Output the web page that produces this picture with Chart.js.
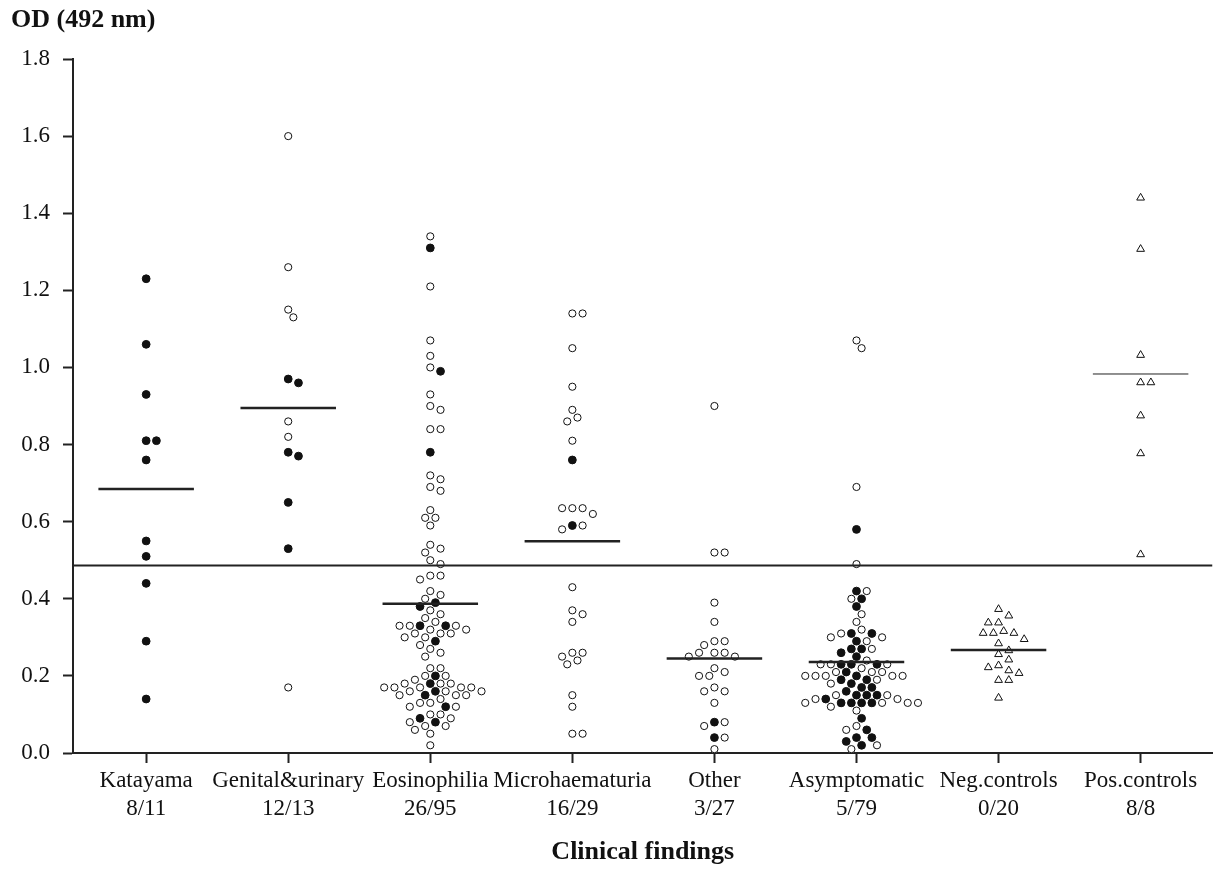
<!DOCTYPE html>
<html lang="en">
<head>
    <meta charset="UTF-8">
    <title>OD (492 nm) by clinical findings</title>
    <script src="https://cdn.jsdelivr.net/npm/chart.js@4.4.0/dist/chart.umd.min.js"></script>
    <style>
        body { margin: 0; background: #fff; }
        #chartBox { width: 1218px; height: 870px; }
    </style>
</head>
<body>
<div id="chartBox"><canvas id="odChart"></canvas></div>
<script>
    // categories and their positive/total ratios
    const categories = ['Katayama', 'Genital&urinary', 'Eosinophilia', 'Microhaematuria', 'Other', 'Asymptomatic', 'Neg.controls', 'Pos.controls'];
    const ratios = ['8/11', '12/13', '26/95', '16/29', '3/27', '5/79', '0/20', '8/8'];
    const yTicks = [0.0, 0.2, 0.4, 0.6, 0.8, 1.0, 1.2, 1.4, 1.6, 1.8];

    // OD values (filled / open circles, triangles for controls)
    const katayamaFilled = [1.23, 1.06, 0.93, 0.81, 0.81, 0.76, 0.55, 0.51, 0.44, 0.29, 0.14];
    const katayamaOpen = [];
    const genitalFilled = [0.97, 0.96, 0.78, 0.77, 0.65, 0.53];
    const genitalOpen = [1.60, 1.26, 1.15, 1.13, 0.86, 0.82, 0.17];
    const eosFilled = [1.31, 0.99, 0.78, 0.39, 0.38, 0.33, 0.33, 0.29, 0.20, 0.18, 0.16, 0.15, 0.12, 0.09, 0.08];
    const eosOpen = [1.34, 1.21, 1.07, 1.03, 1.00, 0.93, 0.90, 0.89, 0.84, 0.84,
        0.72, 0.71, 0.69, 0.68, 0.63, 0.61, 0.61, 0.59, 0.54, 0.53,
        0.52, 0.50, 0.49, 0.46, 0.46, 0.45, 0.42, 0.41, 0.40, 0.37,
        0.36, 0.35, 0.34, 0.33, 0.32, 0.33, 0.33, 0.32, 0.31, 0.31,
        0.31, 0.30, 0.30, 0.28, 0.27, 0.26, 0.25, 0.22, 0.22, 0.20,
        0.20, 0.19, 0.18, 0.18, 0.18, 0.17, 0.17, 0.16, 0.16, 0.17,
        0.17, 0.17, 0.16, 0.15, 0.15, 0.15, 0.14, 0.13, 0.13, 0.12,
        0.12, 0.10, 0.10, 0.09, 0.08, 0.07, 0.07, 0.06, 0.05, 0.02];
    const microFilled = [0.76, 0.59];
    const microOpen = [1.14, 1.14, 1.05, 0.95, 0.89, 0.87, 0.86, 0.81, 0.635, 0.635, 0.635, 0.62, 0.59, 0.58,
        0.43, 0.37, 0.36, 0.34, 0.26, 0.26, 0.25, 0.24, 0.23, 0.15, 0.12, 0.05, 0.05];
    const otherFilled = [0.08, 0.04];
    const otherOpen = [0.90, 0.52, 0.52, 0.39, 0.34, 0.29, 0.29, 0.28, 0.26, 0.26, 0.26, 0.25, 0.25,
        0.22, 0.21, 0.20, 0.20, 0.17, 0.16, 0.16, 0.13, 0.08, 0.07, 0.04, 0.01];
    const asympFilled = [0.58, 0.42, 0.40, 0.38, 0.31, 0.31, 0.29, 0.27, 0.27, 0.26,
        0.25, 0.23, 0.23, 0.23, 0.21, 0.20, 0.19, 0.19, 0.18, 0.17,
        0.17, 0.16, 0.15, 0.15, 0.15, 0.14, 0.13, 0.13, 0.13, 0.13,
        0.09, 0.06, 0.04, 0.04, 0.03, 0.02];
    const asympOpen = [1.07, 1.05, 0.69, 0.49, 0.42, 0.40, 0.36, 0.34, 0.32, 0.31,
        0.30, 0.30, 0.29, 0.27, 0.24, 0.23, 0.23, 0.23, 0.22, 0.21,
        0.21, 0.21, 0.20, 0.20, 0.20, 0.20, 0.20, 0.19, 0.18, 0.15,
        0.15, 0.14, 0.14, 0.13, 0.13, 0.13, 0.13, 0.12, 0.11, 0.07,
        0.06, 0.02, 0.01];
    const negControls = [0.373, 0.356, 0.338, 0.338, 0.316, 0.311, 0.311, 0.311, 0.295, 0.284,
        0.266, 0.256, 0.242, 0.227, 0.222, 0.214, 0.207, 0.189, 0.189, 0.143];
    const posControls = [1.44, 1.307, 1.032, 0.961, 0.961, 0.875, 0.777, 0.515];

    // group means (short bars) and the cut-off line
    const groupMeans = [0.685, 0.895, 0.387, 0.549, 0.245, 0.236, 0.267, 0.983];
    const cutoff = 0.486;

    const groupFilled = [katayamaFilled, genitalFilled, eosFilled, microFilled, otherFilled, asympFilled, [], []];
    const groupOpen = [katayamaOpen, genitalOpen, eosOpen, microOpen, otherOpen, asympOpen, [], []];
    const groupTriangles = [[], [], [], [], [], [], negControls, posControls];

    // rough pixel scale, used only to spread overlapping points sideways
    const CAT_PX = 142.8, OD_PX = 385.4, STEP_PX = 10.3, MIN_DIST_PX = 9;
    const X_MIN = 0.485, X_MAX = 8.506;
    const MEAN_HALF = 48 / CAT_PX;

    const filledPts = [], openPts = [], triPts = [];
    const tries = [0];
    for (let s = 0.5; s <= 8; s += 0.5) tries.push(s, -s);

    categories.forEach((cat, i) => {
        const pts = [
            ...groupFilled[i].map(v => ({ v, kind: 'f' })),
            ...groupOpen[i].map(v => ({ v, kind: 'o' })),
            ...groupTriangles[i].map(v => ({ v, kind: 't' }))
        ].sort((a, b) => b.v - a.v);
        const placed = [];
        pts.forEach(p => {
            const py = p.v * OD_PX;
            const k = tries.find(k => !placed.some(q => {
                const dx = (q.k - k) * STEP_PX, dy = q.py - py;
                return dx * dx + dy * dy < MIN_DIST_PX * MIN_DIST_PX;
            }));
            placed.push({ k, py });
            const pt = { x: i + 1 + k * STEP_PX / CAT_PX, y: p.v };
            if (p.kind === 'f') filledPts.push(pt);
            else if (p.kind === 'o') openPts.push(pt);
            else triPts.push(pt);
        });
    });

    const meanSets = groupMeans.map((m, i) => ({
        data: [{ x: i + 1 - MEAN_HALF, y: m }, { x: i + 1 + MEAN_HALF, y: m }],
        showLine: true,
        borderColor: '#222',
        borderWidth: i === 7 ? 1 : 2.5,
        pointRadius: 0
    }));

    // bold "OD (492 nm)" header above the y axis
    const odLabel = {
        id: 'odLabel',
        afterDraw(chart) {
            const c = chart.ctx;
            c.save();
            c.font = 'bold 26px "Liberation Serif"';
            c.fillStyle = '#111';
            c.textBaseline = 'alphabetic';
            c.fillText('OD (492 nm)', 11, 27);
            c.restore();
        }
    };

    const serif = '"Liberation Serif", "Times New Roman", serif';

    new Chart(document.getElementById('odChart'), {
        type: 'scatter',
        data: {
            datasets: [
                {
                    data: [{ x: X_MIN, y: cutoff }, { x: X_MAX, y: cutoff }],
                    showLine: true,
                    borderColor: '#222',
                    borderWidth: 2,
                    pointRadius: 0
                },
                ...meanSets,
                {
                    data: openPts,
                    pointStyle: 'circle',
                    pointRadius: 3.6,
                    backgroundColor: '#fff',
                    borderColor: '#111',
                    borderWidth: 1
                },
                {
                    data: filledPts,
                    pointStyle: 'circle',
                    pointRadius: 3.9,
                    backgroundColor: '#111',
                    borderColor: '#111',
                    borderWidth: 1
                },
                {
                    data: triPts,
                    pointStyle: 'triangle',
                    pointRadius: 4.5,
                    backgroundColor: '#fff',
                    borderColor: '#111',
                    borderWidth: 1
                }
            ]
        },
        options: {
            responsive: true,
            maintainAspectRatio: false,
            animation: false,
            layout: { padding: { top: 59, left: 0, right: 0, bottom: 0 } },
            plugins: {
                legend: { display: false },
                tooltip: { enabled: false }
            },
            scales: {
                x: {
                    type: 'linear',
                    min: X_MIN,
                    max: X_MAX,
                    afterBuildTicks: s => { s.ticks = categories.map((c, i) => ({ value: i + 1 })); },
                    afterFit: s => { s.height = 117; },
                    ticks: {
                        autoSkip: false,
                        maxRotation: 0,
                        padding: 4,
                        color: '#111',
                        font: { family: serif, size: 23, lineHeight: 1.23 },
                        callback: v => [categories[Math.round(v) - 1], ratios[Math.round(v) - 1]]
                    },
                    grid: {
                        display: true,
                        drawOnChartArea: false,
                        drawTicks: true,
                        tickLength: 10,
                        tickColor: '#222',
                        tickWidth: 2
                    },
                    border: { display: true, color: '#222', width: 2 },
                    title: {
                        display: true,
                        text: 'Clinical findings',
                        color: '#111',
                        font: { family: serif, size: 26, weight: 'bold', lineHeight: 1.2 },
                        padding: { top: 0, bottom: 2 }
                    }
                },
                y: {
                    min: 0,
                    max: 1.8,
                    afterBuildTicks: s => { s.ticks = yTicks.map(v => ({ value: v })); },
                    afterFit: s => { s.width = 73; },
                    ticks: {
                        padding: 13,
                        color: '#111',
                        font: { family: serif, size: 23 },
                        callback: v => v.toFixed(1)
                    },
                    grid: {
                        display: true,
                        drawOnChartArea: false,
                        drawTicks: true,
                        tickLength: 10,
                        tickColor: '#222',
                        tickWidth: 2
                    },
                    border: { display: true, color: '#222', width: 2 }
                }
            }
        },
        plugins: [odLabel]
    });
</script>
</body>
</html>
